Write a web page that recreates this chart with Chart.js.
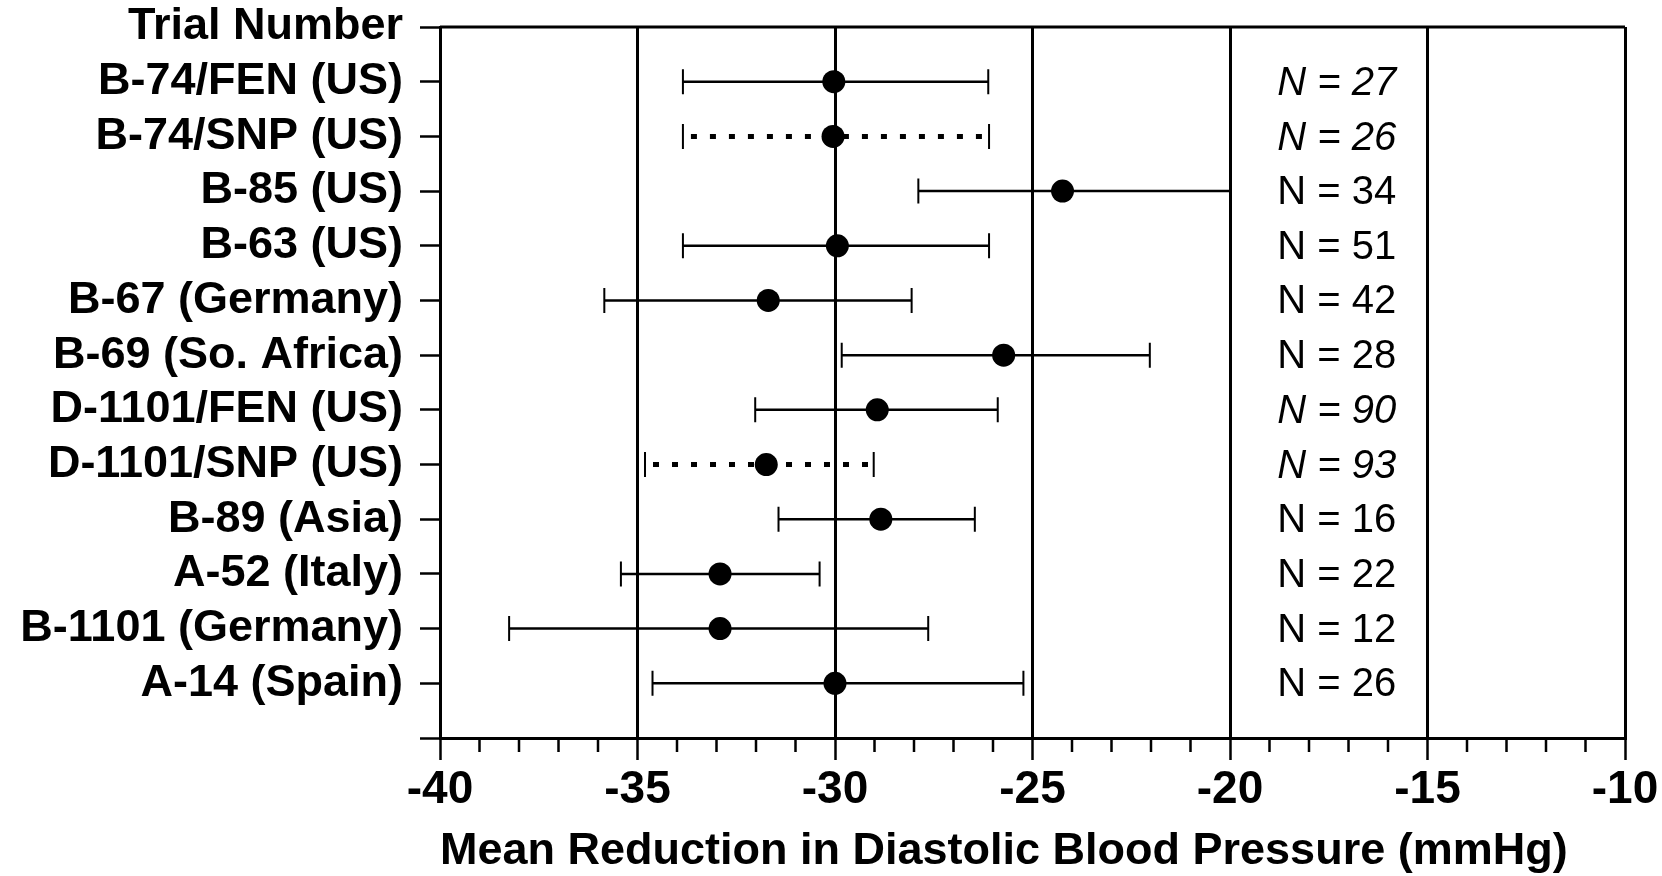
<!DOCTYPE html>
<html>
<head>
<meta charset="utf-8">
<script src="https://cdn.jsdelivr.net/npm/chart.js@4.4.0/dist/chart.umd.min.js"></script>
<style>
  html, body { margin: 0; padding: 0; background: #fff; }
  #wrap { width: 1662px; height: 876px; }
</style>
</head>
<body>
<div id="wrap"><canvas id="forest" width="1662" height="876"></canvas></div>
<script>
// Row labels on the y axis (first is the header, last is an empty row at the bottom)
const rowLabels = ['Trial Number', 'B-74/FEN (US)', 'B-74/SNP (US)', 'B-85 (US)', 'B-63 (US)',
    'B-67 (Germany)', 'B-69 (So. Africa)', 'D-1101/FEN (US)', 'D-1101/SNP (US)', 'B-89 (Asia)',
    'A-52 (Italy)', 'B-1101 (Germany)', 'A-14 (Spain)', ''];

// One entry per trial, top to bottom
const meanReduction = [-30.03, -30.05, -24.24, -29.94, -31.69, -25.73, -28.93, -31.74, -28.84, -32.91, -32.91, -30.0];
const lowerLimit = [-33.85, -33.85, -27.89, -33.85, -35.84, -29.83, -32.02, -34.81, -31.43, -35.42, -38.25, -34.62];
const upperLimit = [-26.12, -26.1, -20.0, -26.1, -28.06, -22.03, -25.88, -29.02, -26.46, -30.39, -27.64, -25.23];
const sampleSize = [27, 26, 34, 51, 42, 28, 90, 93, 16, 22, 12, 26];
const italicN = [true, true, false, false, false, false, true, true, false, false, false, false];
const dottedTrials = ['B-74/SNP (US)', 'D-1101/SNP (US)'];

const xMin = -40;
const xMax = -10;
const nLabelAt = -17.3;   // where the N = .. column sits on the x scale

const FONT = '"Liberation Sans", Arial, sans-serif';

// error bars, minor ticks, frame top and the N column
const forestPlugin = {
    id: 'forest',
    beforeDatasetsDraw(chart) {
        const { ctx, scales: { x, y } } = chart;
        ctx.save();
        ctx.strokeStyle = '#000';
        meanReduction.forEach((m, i) => {
            const py = y.getPixelForValue(i + 1);
            const x1 = x.getPixelForValue(lowerLimit[i]);
            const x2 = x.getPixelForValue(upperLimit[i]);
            const dotted = dottedTrials.includes(rowLabels[i + 1]);

            ctx.beginPath();
            if (dotted) {
                ctx.lineWidth = 5;
                ctx.setLineDash([6, 13]);
                ctx.moveTo(x1 + 8, py);
            } else {
                ctx.lineWidth = 2.5;
                ctx.setLineDash([]);
                ctx.moveTo(x1, py);
            }
            ctx.lineTo(x2, py);
            ctx.stroke();

            // end caps
            ctx.setLineDash([]);
            ctx.lineWidth = 2;
            ctx.beginPath();
            ctx.moveTo(x1, py - 12.5);
            ctx.lineTo(x1, py + 12.5);
            ctx.moveTo(x2, py - 12.5);
            ctx.lineTo(x2, py + 12.5);
            ctx.stroke();
        });
        ctx.restore();
    },
    afterDraw(chart) {
        const { ctx, chartArea, scales: { x, y } } = chart;
        ctx.save();
        ctx.strokeStyle = '#000';

        // top of the frame
        ctx.lineWidth = 3;
        ctx.beginPath();
        ctx.moveTo(chartArea.left, chartArea.top);
        ctx.lineTo(chartArea.right, chartArea.top);
        ctx.stroke();

        // short minor ticks under the x axis
        ctx.lineWidth = 2.5;
        ctx.beginPath();
        for (let v = xMin + 1; v < xMax; v++) {
            if (v % 5 === 0) continue;
            const px = x.getPixelForValue(v);
            ctx.moveTo(px, chartArea.bottom);
            ctx.lineTo(px, chartArea.bottom + 14);
        }
        ctx.stroke();

        // N = .. column
        ctx.fillStyle = '#000';
        ctx.textAlign = 'center';
        ctx.textBaseline = 'middle';
        sampleSize.forEach((n, i) => {
            ctx.font = (italicN[i] ? 'italic ' : '') + '40px ' + FONT;
            ctx.fillText('N = ' + n, x.getPixelForValue(nLabelAt), y.getPixelForValue(i + 1) + 2);
        });
        ctx.restore();
    }
};

const ctx = document.getElementById('forest').getContext('2d');

new Chart(ctx, {
    type: 'scatter',
    data: {
        datasets: [{
            label: 'Mean reduction',
            data: meanReduction.map((m, i) => ({ x: m, y: i + 1 })),
            pointRadius: 11.5,
            pointHoverRadius: 11.5,
            pointBackgroundColor: '#000',
            pointBorderWidth: 0,
            showLine: false
        }]
    },
    options: {
        responsive: false,
        animation: false,
        layout: { padding: { top: 27, right: 37, bottom: 0, left: 0 } },
        plugins: {
            legend: { display: false },
            tooltip: { enabled: false }
        },
        scales: {
            x: {
                type: 'linear',
                min: xMin,
                max: xMax,
                afterFit: (scale) => {
                    scale.height = 138;
                    scale.paddingLeft = 0;
                    scale.paddingRight = 0;
                },
                ticks: {
                    stepSize: 1,
                    autoSkip: false,
                    maxRotation: 0,
                    padding: 3,
                    color: '#000',
                    font: { family: FONT, size: 46, weight: 'bold' },
                    callback: (v) => (v % 5 === 0 ? v : '')
                },
                grid: {
                    color: (c) => (c.tick && c.tick.value % 5 === 0 ? '#000' : 'rgba(0,0,0,0)'),
                    tickColor: (c) => (c.tick && c.tick.value % 5 === 0 ? '#000' : 'rgba(0,0,0,0)'),
                    lineWidth: 3,
                    tickWidth: 2.5,
                    tickLength: 22
                },
                border: { display: true, color: '#000', width: 3 },
                title: {
                    display: true,
                    align: 'start',
                    text: 'Mean Reduction in Diastolic Blood Pressure (mmHg)',
                    color: '#000',
                    font: { family: FONT, size: 45, weight: 'bold', lineHeight: 1 },
                    padding: { top: 0, bottom: 2 }
                }
            },
            y: {
                type: 'linear',
                min: 0,
                max: rowLabels.length - 1,
                reverse: true,
                afterFit: (scale) => {
                    scale.width = 440;
                    scale.paddingTop = 0;
                    scale.paddingBottom = 0;
                },
                ticks: {
                    stepSize: 1,
                    autoSkip: false,
                    padding: 17,
                    color: '#000',
                    font: { family: FONT, size: 45, weight: 'bold', lineHeight: 1.1 },
                    callback: (v) => rowLabels[v]
                },
                grid: {
                    drawOnChartArea: false,
                    tickColor: '#000',
                    tickWidth: 2.5,
                    tickLength: 20
                },
                border: { display: true, color: '#000', width: 3 }
            }
        }
    },
    plugins: [forestPlugin]
});
</script>
</body>
</html>
